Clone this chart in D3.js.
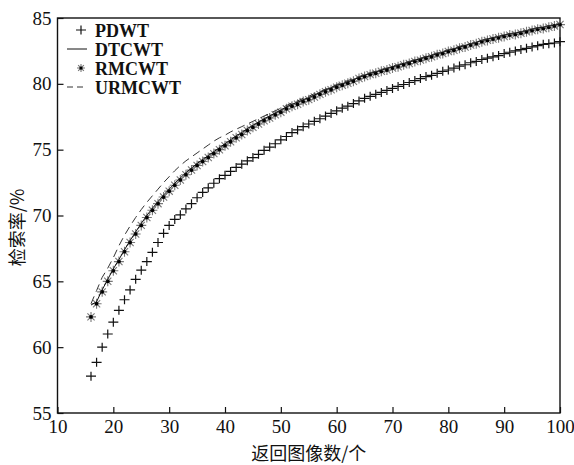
<!DOCTYPE html>
<html>
<head>
<meta charset="utf-8">
<script src="https://cdn.jsdelivr.net/npm/d3@7"></script>
<style>
  body { margin: 0; background: #fff; }
  svg text { font-family: "Liberation Serif", "Times New Roman", serif; fill: #111; }
  .cjk { font-family: "Noto Sans CJK SC", sans-serif; }
</style>
</head>
<body>
<div id="chart"></div>
<script>
// number of returned images (x axis)
const returnCounts = d3.range(16, 101);

const pdwt = [57.8, 58.85, 60.0, 61.0, 61.9, 62.8, 63.6, 64.35, 65.15, 65.85,
  66.5, 67.2, 67.95, 68.65, 69.25, 69.7, 70.05, 70.5, 70.9, 71.35,
  71.75, 72.1, 72.45, 72.8, 73.05, 73.35, 73.65, 73.9, 74.15, 74.4,
  74.65, 74.95, 75.2, 75.45, 75.75, 76.0, 76.3, 76.5, 76.75, 76.95,
  77.15, 77.35, 77.55, 77.75, 77.95, 78.15, 78.3, 78.5, 78.7, 78.9,
  79.05, 79.2, 79.35, 79.5, 79.65, 79.8, 79.95, 80.1, 80.25, 80.4,
  80.55, 80.65, 80.8, 80.95, 81.05, 81.2, 81.35, 81.45, 81.6, 81.7,
  81.85, 81.95, 82.05, 82.15, 82.3, 82.4, 82.5, 82.6, 82.7, 82.8,
  82.9, 83.0, 83.05, 83.1, 83.2];

const dtcwt = [63.2, 63.45, 64.35, 65.15, 65.95, 66.65, 67.4, 68.1, 68.75, 69.4,
  70.0, 70.55, 71.05, 71.55, 72.0, 72.45, 72.85, 73.25, 73.6, 73.95,
  74.25, 74.55, 74.85, 75.15, 75.45, 75.75, 76.05, 76.3, 76.6, 76.85,
  77.1, 77.35, 77.55, 77.8, 78.0, 78.25, 78.45, 78.6, 78.8, 78.95,
  79.15, 79.35, 79.55, 79.7, 79.9, 80.0, 80.15, 80.3, 80.5, 80.65,
  80.8, 80.9, 81.05, 81.15, 81.3, 81.4, 81.55, 81.65, 81.8, 81.9,
  82.05, 82.15, 82.3, 82.4, 82.55, 82.65, 82.8, 82.9, 83.05, 83.15,
  83.3, 83.4, 83.5, 83.6, 83.7, 83.8, 83.85, 83.95, 84.05, 84.15,
  84.25, 84.3, 84.4, 84.45, 84.55];

const rmcwt = [62.3, 63.3, 64.2, 65.0, 65.8, 66.5, 67.25, 67.95, 68.6, 69.25,
  69.85, 70.4, 70.9, 71.4, 71.85, 72.3, 72.7, 73.1, 73.45, 73.8,
  74.1, 74.4, 74.7, 75.0, 75.3, 75.6, 75.9, 76.15, 76.45, 76.7,
  76.95, 77.2, 77.4, 77.65, 77.85, 78.1, 78.3, 78.45, 78.65, 78.8,
  79.0, 79.2, 79.4, 79.55, 79.75, 79.9, 80.05, 80.2, 80.4, 80.55,
  80.7, 80.8, 80.95, 81.05, 81.2, 81.3, 81.45, 81.55, 81.7, 81.8,
  81.95, 82.05, 82.2, 82.3, 82.45, 82.55, 82.7, 82.8, 82.95, 83.05,
  83.2, 83.3, 83.4, 83.5, 83.6, 83.7, 83.75, 83.85, 83.95, 84.05,
  84.15, 84.2, 84.3, 84.4, 84.5];

const urmcwt = [63.3, 64.3, 65.3, 66.0, 66.8, 67.7, 68.5, 69.2, 69.85, 70.45,
  71.0, 71.5, 72.0, 72.5, 72.95, 73.4, 73.8, 74.15, 74.45, 74.75,
  75.05, 75.35, 75.65, 75.9, 76.1, 76.35, 76.55, 76.75, 76.95, 77.15,
  77.35, 77.55, 77.75, 77.95, 78.15, 78.35, 78.55, 78.7, 78.9, 79.05,
  79.25, 79.4, 79.6, 79.75, 79.95, 80.1, 80.25, 80.4, 80.55, 80.7,
  80.85, 80.95, 81.1, 81.2, 81.35, 81.45, 81.6, 81.7, 81.85, 81.95,
  82.1, 82.2, 82.35, 82.45, 82.6, 82.7, 82.85, 82.95, 83.05, 83.15,
  83.3, 83.4, 83.5, 83.6, 83.7, 83.8, 83.85, 83.95, 84.05, 84.15,
  84.25, 84.3, 84.4, 84.5, 84.6];

const xTicks = [10, 20, 30, 40, 50, 60, 70, 80, 90, 100];
const yTicks = [55, 60, 65, 70, 75, 80, 85];
const legendLabels = ['PDWT', 'DTCWT', 'RMCWT', 'URMCWT'];

const width = 574, height = 465;
const margin = { top: 18, right: 14, bottom: 52, left: 57.5 };

const svg = d3.select('#chart').append('svg')
  .attr('width', width)
  .attr('height', height);

const x = d3.scaleLinear().domain([10, 100]).range([margin.left, width - margin.right]);
const y = d3.scaleLinear().domain([55, 85]).range([height - margin.bottom, margin.top]);

// frame
svg.append('rect')
  .attr('x', margin.left).attr('y', margin.top)
  .attr('width', width - margin.left - margin.right)
  .attr('height', height - margin.top - margin.bottom)
  .attr('fill', 'none').attr('stroke', '#111').attr('stroke-width', 1.4);

const xAxis = svg.append('g')
  .attr('transform', `translate(0,${height - margin.bottom})`)
  .call(d3.axisBottom(x).tickValues(xTicks).tickSizeInner(-6).tickSizeOuter(0).tickPadding(7));
xAxis.select('.domain').remove();

const yAxis = svg.append('g')
  .attr('transform', `translate(${margin.left},0)`)
  .call(d3.axisLeft(y).tickValues(yTicks).tickSizeInner(-6).tickSizeOuter(0).tickPadding(6));
yAxis.select('.domain').remove();

svg.selectAll('.tick line').attr('stroke', '#111').attr('stroke-width', 1.2);
svg.selectAll('.tick text')
  .style('font-family', '"Liberation Serif", serif')
  .style('font-size', '19px')
  .attr('fill', '#111');

// axis titles
svg.append('text')
  .attr('class', 'cjk')
  .attr('x', (margin.left + width - margin.right) / 2)
  .attr('y', 460)
  .attr('text-anchor', 'middle')
  .style('font-size', '18px')
  .text('返回图像数/个');

svg.append('text')
  .attr('class', 'cjk')
  .attr('transform', `translate(24, ${(margin.top + height - margin.bottom) / 2 + 12}) rotate(-90)`)
  .attr('text-anchor', 'middle')
  .style('font-size', '18px')
  .text('检索率/%');

const plot = svg.append('g');

function plusPath(cx, cy, r) {
  return `M${cx - r},${cy}H${cx + r}M${cx},${cy - r * 0.9}V${cy + r * 0.9}`;
}
function starPath(cx, cy, r) {
  const d = r * 0.72;
  return `M${cx - r},${cy}H${cx + r}M${cx},${cy - r}V${cy + r}` +
    `M${cx - d},${cy - d}L${cx + d},${cy + d}M${cx - d},${cy + d}L${cx + d},${cy - d}`;
}

// PDWT markers
plot.selectAll('.pd')
  .data(returnCounts.map((v, i) => [v, pdwt[i]]))
  .enter().append('path')
  .attr('d', d => plusPath(x(d[0]), y(d[1]), 5))
  .attr('stroke', '#111').attr('stroke-width', 1.2).attr('fill', 'none');

// RMCWT markers
const rmG = plot.selectAll('.rm')
  .data(returnCounts.map((v, i) => [v, rmcwt[i]]))
  .enter().append('g');
rmG.append('path')
  .attr('d', d => starPath(x(d[0]), y(d[1]), 5))
  .attr('stroke', '#777').attr('stroke-width', 1.1).attr('fill', 'none');
rmG.append('circle')
  .attr('cx', d => x(d[0])).attr('cy', d => y(d[1])).attr('r', 1.9)
  .attr('fill', '#000');

const line = d3.line().x(d => x(d[0])).y(d => y(d[1]));

plot.append('path')
  .datum(returnCounts.map((v, i) => [v, dtcwt[i]]))
  .attr('d', line)
  .attr('fill', 'none').attr('stroke', '#111').attr('stroke-width', 1);

plot.append('path')
  .datum(returnCounts.map((v, i) => [v, urmcwt[i]]))
  .attr('d', line)
  .attr('fill', 'none').attr('stroke', '#333').attr('stroke-width', 1)
  .attr('stroke-dasharray', '8,5');

// legend
const legend = svg.append('g').attr('transform', `translate(0, 30)`);
const rowGap = 19;
legendLabels.forEach((lab, i) => {
  const gy = i * rowGap;
  const g = legend.append('g').attr('transform', `translate(0, ${gy})`);
  if (i === 0) {
    g.append('path').attr('d', plusPath(81, 0, 5))
      .attr('stroke', '#111').attr('stroke-width', 1.2);
  } else if (i === 1) {
    g.append('line').attr('x1', 67).attr('x2', 87).attr('y1', 0).attr('y2', 0)
      .attr('stroke', '#111').attr('stroke-width', 1);
  } else if (i === 2) {
    g.append('path').attr('d', starPath(81, 0, 4))
      .attr('stroke', '#777').attr('stroke-width', 1.1);
    g.append('circle').attr('cx', 81).attr('cy', 0).attr('r', 1.6).attr('fill', '#000');
  } else {
    g.append('line').attr('x1', 67).attr('x2', 87).attr('y1', 0).attr('y2', 0)
      .attr('stroke', '#333').attr('stroke-width', 1).attr('stroke-dasharray', '6,4');
  }
  g.append('text')
    .attr('x', 95).attr('y', 6.5)
    .style('font-size', '18px')
    .style('font-weight', 'bold')
    .text(lab);
});
</script>
</body>
</html>
